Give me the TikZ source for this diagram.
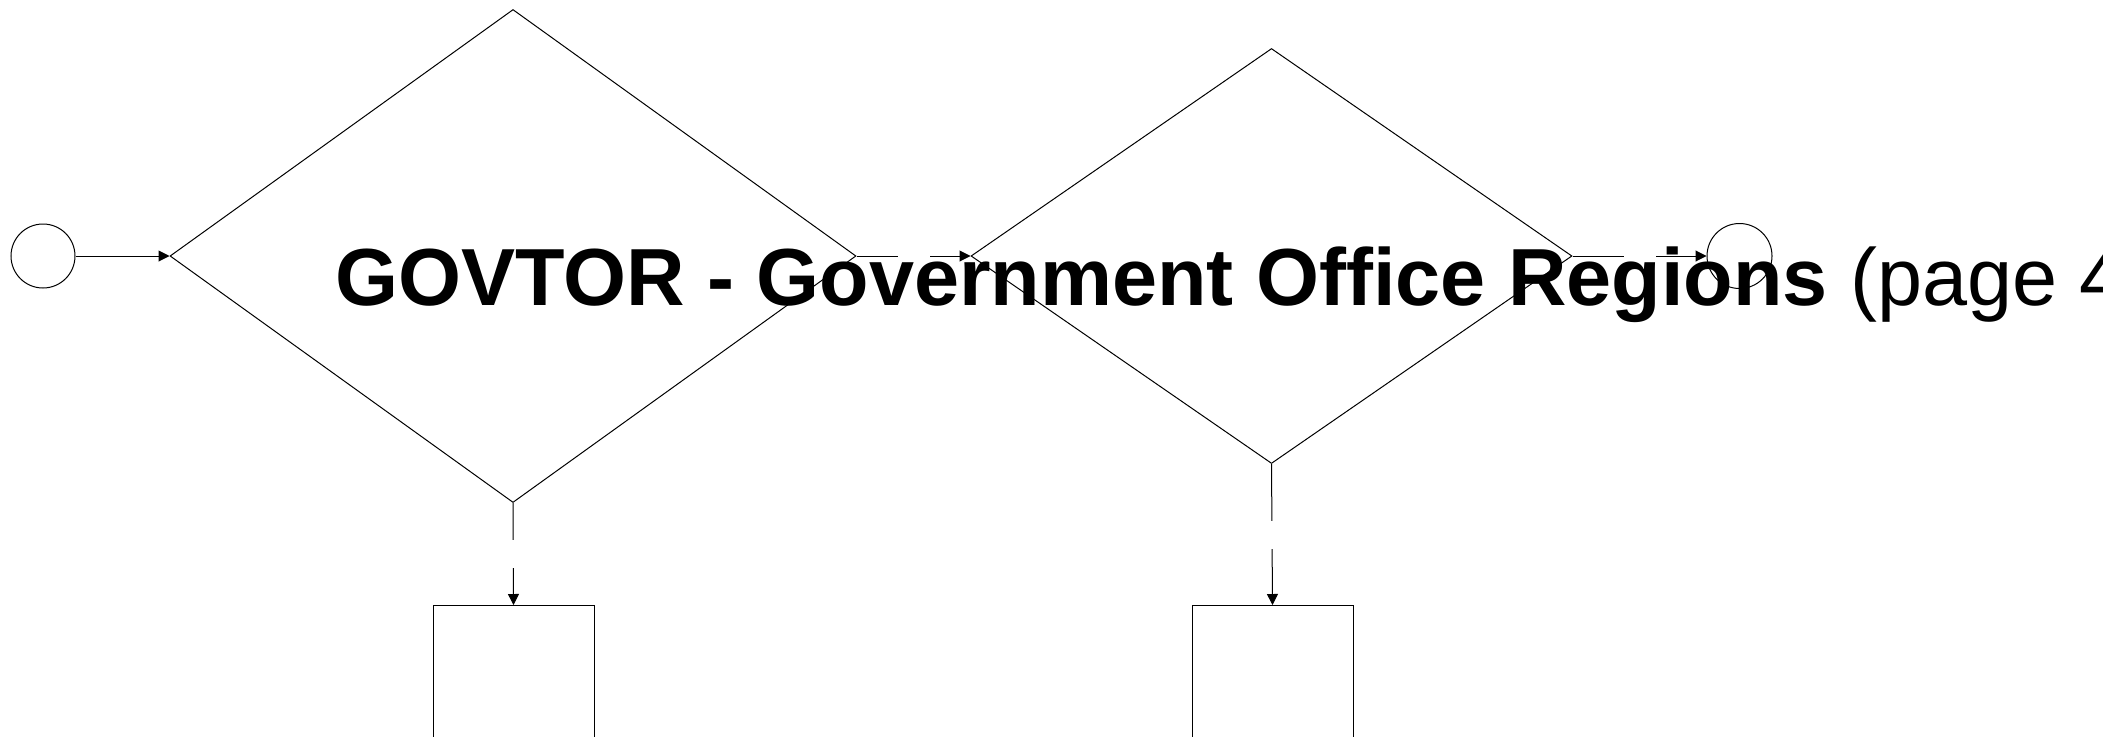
\documentclass[tikz,border=0pt]{standalone}
\usepackage{fontspec}
\setmainfont{Liberation Sans}
\usepackage{tikz}
\usetikzlibrary{arrows.meta,shapes.geometric}

\tikzset{
  flow/.style={draw=black,line width=1pt,-{Triangle[length=11pt,width=11pt]}},
  lblgap/.style={fill=white,inner sep=0pt,minimum width=32pt,minimum height=28pt},
  event/.style={circle,draw=black,line width=1pt,inner sep=0pt},
  gateway/.style={diamond,draw=black,line width=1pt,inner sep=0pt},
  task/.style={rectangle,draw=black,line width=1pt,inner sep=0pt}
}

\begin{document}
\begin{tikzpicture}[x=1pt,y=-1pt]
    \clip (0,0) rectangle (2103,736);

    \node[event,minimum size=64pt] (start) at (43,256) {};
    \node[gateway,minimum width=686pt,minimum height=493pt] (govtor) at (513,256) {};
    \node[gateway,minimum width=601pt,minimum height=415pt] (regions) at (1271.5,256) {};
    \node[event,minimum size=65pt] (end) at (1739.5,256) {};

    \node[task,anchor=north,minimum width=161pt,minimum height=200pt] (taskA) at (513.5,605) {};
    \node[task,anchor=north,minimum width=161pt,minimum height=200pt] (taskB) at (1272.5,605) {};

    \draw[flow] (start) -- (govtor.west);
    \draw[flow] (govtor.east) -- node[lblgap] {} (regions.west);
    \draw[flow] (regions.east) -- node[lblgap] {} (end);
    \draw[flow] (govtor.south) -- node[lblgap] {} (taskA.north);
    \draw[flow] (regions.south) -- node[lblgap] {} (taskB.north);

    \node[anchor=base west,inner sep=0pt,font=\fontsize{81}{96}\selectfont] (title) at (335,305)
      {\textbf{GOVTOR - Government Office Regions} (page 4)};
\end{tikzpicture}
\end{document}
